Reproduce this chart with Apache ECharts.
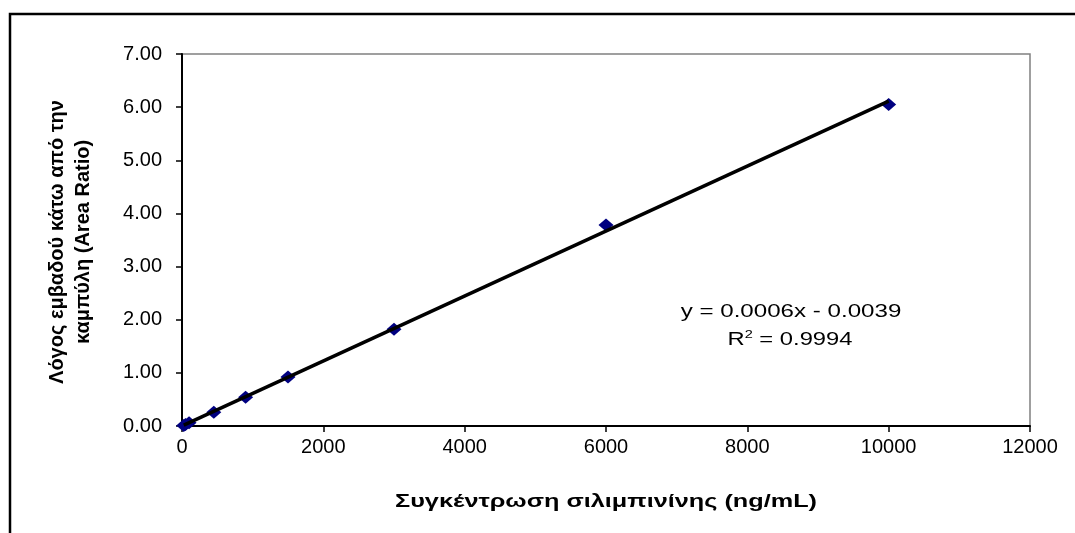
<!DOCTYPE html>
<html>
<head>
<meta charset="utf-8">
<script src="https://cdn.jsdelivr.net/npm/echarts@6/dist/echarts.min.js"></script>
<style>
  html, body { margin: 0; padding: 0; background: #fff; }
  #chart { width: 1075px; height: 533px; }
</style>
</head>
<body>
<div id="chart"></div>
<script>
// Calibration samples: concentration (ng/mL) and measured area ratio
const concentrations = [25, 50, 100, 450, 900, 1500, 3000, 6000, 10000];
const areaRatios = [0.01, 0.03, 0.06, 0.26, 0.54, 0.92, 1.82, 3.78, 6.05];

const xTickLabels = ['0', '2000', '4000', '6000', '8000', '10000', '12000'];
const yTickLabels = ['0.00', '1.00', '2.00', '3.00', '4.00', '5.00', '6.00', '7.00'];

const equationText = 'y = 0.0006x - 0.0039';
const rSquaredText = '0.9994';

const xTitle = 'Συγκέντρωση σιλιμπινίνης (ng/mL)';
const yTitleLines = ['Λόγος εμβαδού κάτω από την', 'καμπύλη (Area Ratio)'];

// Least-squares linear trend through the samples
function linearFit(xs, ys) {
  const n = xs.length;
  let sx = 0, sy = 0, sxx = 0, sxy = 0;
  for (let i = 0; i < n; i++) {
    sx += xs[i]; sy += ys[i]; sxx += xs[i] * xs[i]; sxy += xs[i] * ys[i];
  }
  const slope = (n * sxy - sx * sy) / (n * sxx - sx * sx);
  const intercept = (sy - slope * sx) / n;
  return { slope, intercept };
}
const fit = linearFit(concentrations, areaRatios);
const xMinData = Math.min(...concentrations);
const xMaxData = Math.max(...concentrations);
const trend = [
  [xMinData, fit.intercept + fit.slope * xMinData],
  [xMaxData, fit.intercept + fit.slope * xMaxData]
];

const points = concentrations.map((c, i) => [c, areaRatios[i]]);

const FONT = '"Liberation Sans", Arial, sans-serif';
const chart = echarts.init(document.getElementById('chart'), null, { renderer: 'canvas' });

chart.setOption({
  backgroundColor: '#ffffff',
  animation: false,
  textStyle: { fontFamily: FONT },
  grid: { left: 182, right: 45, top: 54, bottom: 107, show: true, borderColor: '#808080', borderWidth: 1.5, backgroundColor: 'transparent' },
  xAxis: {
    type: 'value',
    min: 0, max: 12000, interval: 2000,
    axisLine: { show: true, onZero: false, lineStyle: { color: '#000', width: 2 } },
    axisTick: { show: true, length: 6, inside: false, lineStyle: { color: '#000', width: 1.5 } },
    axisLabel: {
      margin: 11, color: '#000', fontSize: 20, fontFamily: FONT,
      formatter: (v) => xTickLabels[Math.round(v / 2000)]
    },
    splitLine: { show: false }
  },
  yAxis: {
    type: 'value',
    min: 0, max: 7, interval: 1,
    axisLine: { show: true, onZero: false, lineStyle: { color: '#000', width: 2 } },
    axisTick: { show: true, length: 6, inside: false, lineStyle: { color: '#000', width: 1.5 } },
    axisLabel: {
      margin: 20, color: '#000', fontSize: 20, fontFamily: FONT,
      formatter: (v) => yTickLabels[Math.round(v)]
    },
    splitLine: { show: false }
  },
  graphic: [
    {
      type: 'rect',
      shape: { x: 10, y: 14, width: 1200, height: 700 },
      style: { fill: 'none', stroke: '#000', lineWidth: 2.5 },
      silent: true, z: 100
    },
    {
      type: 'text',
      x: 70, y: 242, rotation: Math.PI / 2,
      style: {
        text: yTitleLines.join('\n'),
        font: 'bold 20px ' + FONT,
        fill: '#000',
        align: 'center',
        verticalAlign: 'middle',
        lineHeight: 26
      }
    },
    {
      type: 'text',
      x: 606, y: 502, scaleX: 1.33,
      style: {
        text: xTitle,
        font: 'bold 19px ' + FONT,
        fill: '#000',
        align: 'center',
        verticalAlign: 'middle'
      }
    },
    {
      type: 'text',
      x: 791, y: 312, scaleX: 1.34,
      style: {
        text: equationText,
        font: '18px ' + FONT, fill: '#000',
        align: 'center', verticalAlign: 'middle'
      }
    },
    {
      type: 'text',
      x: 790, y: 340, scaleX: 1.32,
      style: {
        text: '{r|R}{s|2}{r| = ' + rSquaredText + '}',
        align: 'center', verticalAlign: 'middle',
        rich: {
          r: { fontSize: 18, fontFamily: FONT, color: '#000' },
          s: { fontSize: 11, fontFamily: FONT, color: '#000', padding: [0, 0, 10, 0] }
        }
      }
    }
  ],
  series: [
    {
      type: 'line',
      data: trend,
      symbol: 'none',
      lineStyle: { color: '#000', width: 3.5 },
      z: 3
    },
    {
      type: 'scatter',
      data: points,
      symbol: 'diamond',
      symbolSize: [15, 13],
      itemStyle: { color: '#000080', opacity: 1 },
      z: 2
    }
  ]
});
</script>
</body>
</html>
